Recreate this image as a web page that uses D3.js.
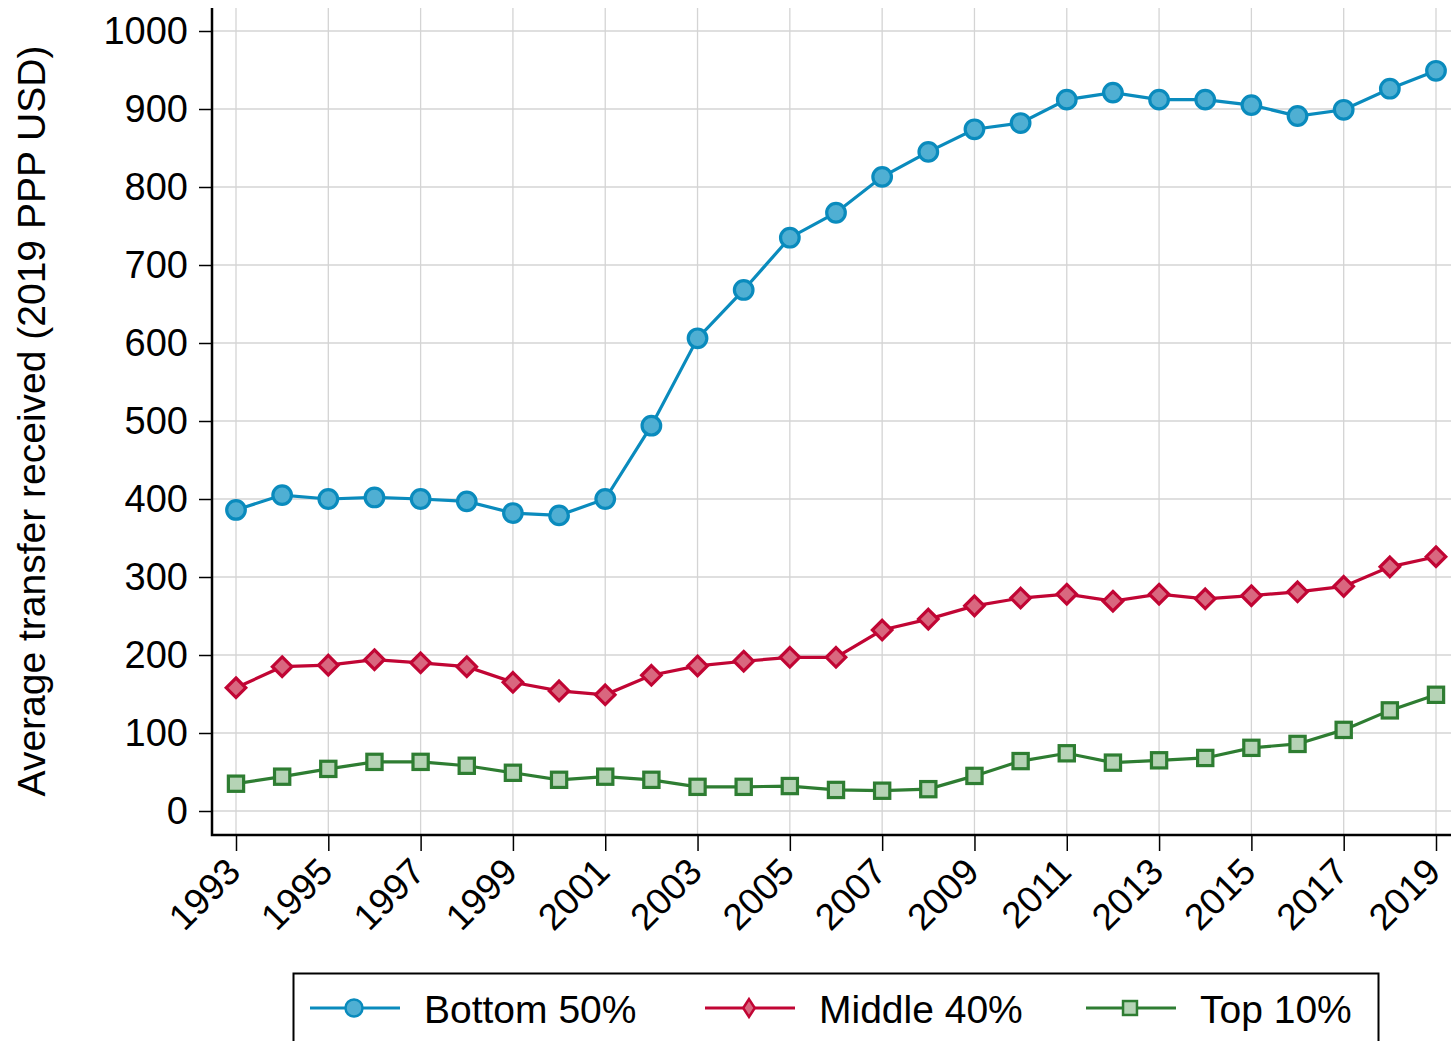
<!DOCTYPE html>
<html>
<head>
<meta charset="utf-8">
<script src="https://cdn.jsdelivr.net/npm/d3@7"></script>
<style>
  body { margin: 0; background: #fff; }
  text { font-family: "Liberation Sans", Arial, sans-serif; }
</style>
</head>
<body>
<script>
var w = 1451,
    h = 1041;

var years = d3.range(1993, 2020);
var tickYears = [1993, 1995, 1997, 1999, 2001, 2003, 2005, 2007, 2009, 2011, 2013, 2015, 2017, 2019];
var yTicks = [0, 100, 200, 300, 400, 500, 600, 700, 800, 900, 1000];

var bottom50 = [386, 405, 400, 402, 400, 397, 382, 379, 400, 494, 606, 668, 735, 767, 813, 845, 874, 882, 912, 921, 912, 912, 905, 891, 899, 926, 949];
var middle40 = [158, 185, 187, 194, 190, 185, 165, 154, 149, 174, 186, 192, 197, 197, 232, 246, 263, 273, 278, 269, 278, 272, 276, 281, 288, 313, 326];
var top10 = [35, 44, 54, 63, 63, 58, 49, 40, 44, 40, 31, 31, 32, 27, 26, 28, 45, 64, 74, 62, 65, 68, 81, 86, 104, 129, 149];

var seriesNames = ["Bottom 50%", "Middle 40%", "Top 10%"];

var series = [
  {name: seriesNames[0], values: bottom50, stroke: "#0a8bbd", fill: "#4fafd3", shape: "circle"},
  {name: seriesNames[1], values: middle40, stroke: "#c10534", fill: "#d9677f", shape: "diamond"},
  {name: seriesNames[2], values: top10, stroke: "#2e7d32", fill: "#b5d3b5", shape: "square"}
];

var x = d3.scaleLinear().domain([1993, 2019]).range([236, 1436]);
var y = d3.scaleLinear().domain([0, 1000]).range([811, 31]);

var svg = d3.select("body").append("svg").attr("width", w).attr("height", h);

// grid
svg.append("g").selectAll("line").data(yTicks).enter().append("line")
  .attr("x1", 212).attr("x2", w)
  .attr("y1", function(d) { return y(d); }).attr("y2", function(d) { return y(d); })
  .attr("stroke", "#d4d4d4").attr("stroke-width", 1.3);
svg.append("g").selectAll("line").data(tickYears).enter().append("line")
  .attr("x1", function(d) { return x(d); }).attr("x2", function(d) { return x(d); })
  .attr("y1", 8).attr("y2", 835)
  .attr("stroke", "#d4d4d4").attr("stroke-width", 1.3);

// axes
var yAxis = d3.axisLeft(y).tickValues(yTicks).tickFormat(d3.format("d")).tickSize(13).tickPadding(11);
var gy = svg.append("g").attr("transform", "translate(212,0)").call(yAxis);
gy.select(".domain").remove();
gy.selectAll(".tick line").attr("stroke", "#000").attr("stroke-width", 1.5);
gy.selectAll("text").attr("font-size", 38).attr("fill", "#000")
  .attr("font-family", "Liberation Sans, Arial, sans-serif");

var xAxis = d3.axisBottom(x).tickValues(tickYears).tickFormat(d3.format("d")).tickSize(16);
var gx = svg.append("g").attr("transform", "translate(0,835)").call(xAxis);
gx.select(".domain").remove();
gx.selectAll(".tick line").attr("stroke", "#000").attr("stroke-width", 1.5);
gx.selectAll("text")
  .attr("font-size", 37).attr("fill", "#000")
  .attr("font-family", "Liberation Sans, Arial, sans-serif")
  .attr("text-anchor", "end")
  .attr("dy", null)
  .attr("y", 0).attr("x", 0)
  .attr("transform", "translate(6,39) rotate(-45)");

svg.append("path")
  .attr("d", "M212,8V835H" + w)
  .attr("fill", "none").attr("stroke", "#000").attr("stroke-width", 2.5);

svg.append("text")
  .attr("transform", "translate(45,421) rotate(-90)")
  .attr("text-anchor", "middle")
  .attr("font-size", 39)
  .text("Average transfer received (2019 PPP USD)");

var line = d3.line()
  .x(function(d, i) { return x(years[i]); })
  .y(function(d) { return y(d); });

function marker(sel, shape, size, sx) {
  sx = sx || 1;
  if (shape === "circle") {
    sel.append("circle").attr("r", size);
  } else if (shape === "diamond") {
    var s = size * 1.05;
    sel.append("path").attr("d", "M0," + (-s) + "L" + (s * sx) + ",0L0," + s + "L" + (-s * sx) + ",0Z");
  } else {
    var q = size * 0.82;
    sel.append("rect").attr("x", -q).attr("y", -q).attr("width", 2 * q).attr("height", 2 * q);
  }
}

series.forEach(function(s) {
  svg.append("path")
    .attr("d", line(s.values))
    .attr("fill", "none").attr("stroke", s.stroke).attr("stroke-width", 3.2);
  var g = svg.append("g");
  s.values.forEach(function(v, i) {
    var m = g.append("g").attr("transform", "translate(" + x(years[i]) + "," + y(v) + ")")
      .attr("fill", s.fill).attr("stroke", s.stroke).attr("stroke-width", 3.2);
    marker(m, s.shape, 9.3);
  });
});

// legend
var legend = svg.append("g");
legend.append("rect")
  .attr("x", 293.5).attr("y", 973.5).attr("width", 1085).attr("height", 80)
  .attr("fill", "#fff").attr("stroke", "#000").attr("stroke-width", 2);

var legendX = [310, 705, 1086];
series.forEach(function(s, i) {
  var lx = legendX[i];
  legend.append("line")
    .attr("x1", lx).attr("x2", lx + 90).attr("y1", 1008).attr("y2", 1008)
    .attr("stroke", s.stroke).attr("stroke-width", 3);
  var m = legend.append("g").attr("transform", "translate(" + (lx + 44) + ",1008)")
    .attr("fill", s.fill).attr("stroke", s.stroke).attr("stroke-width", 2.5);
  marker(m, s.shape, 8.5, 0.65);
  legend.append("text")
    .attr("x", lx + 114).attr("y", 1023)
    .attr("font-size", 39)
    .text(s.name);
});
</script>
</body>
</html>
